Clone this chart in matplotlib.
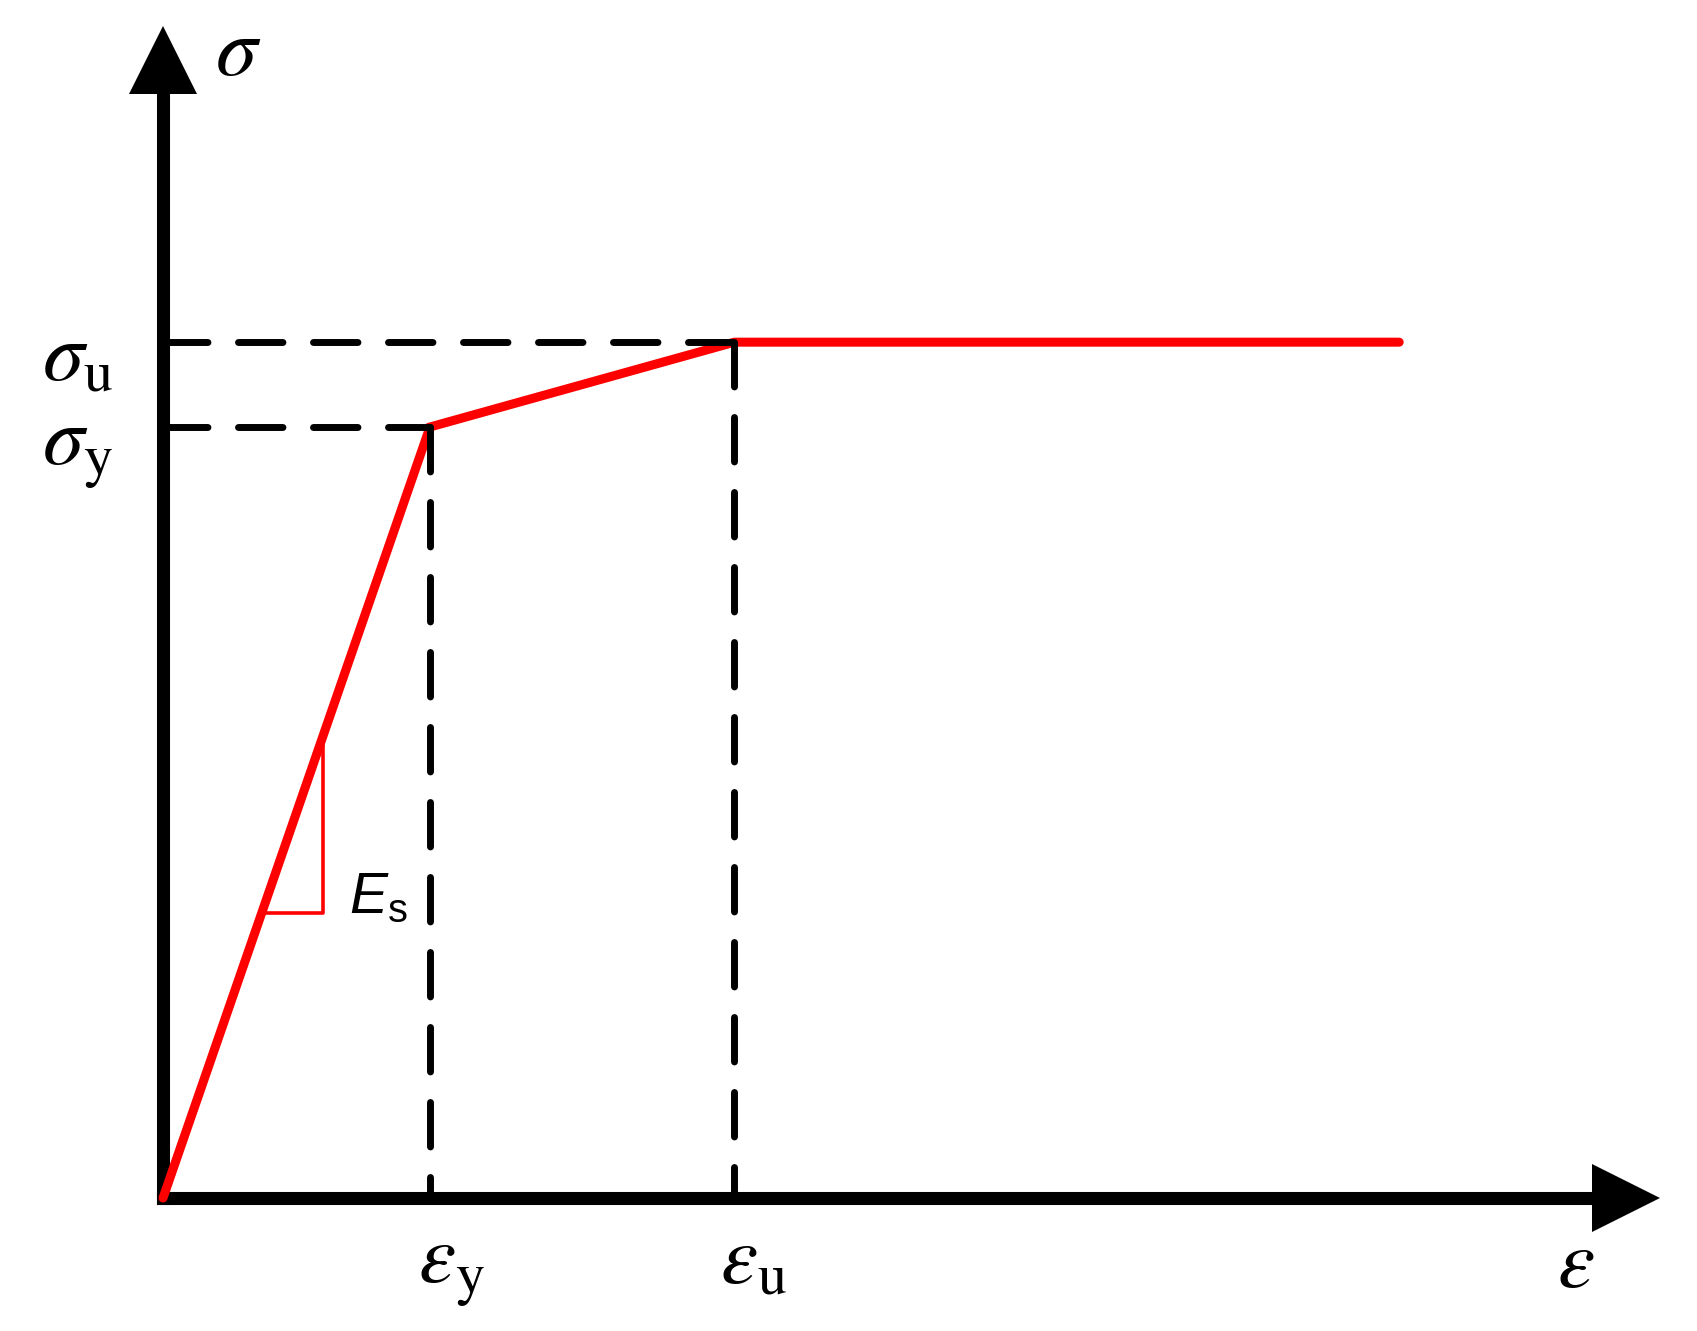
import matplotlib
matplotlib.use("Agg")
import matplotlib.pyplot as plt

plt.rcParams["mathtext.fontset"] = "stix"
plt.rcParams["mathtext.rm"] = "Liberation Sans"
plt.rcParams["mathtext.it"] = "Liberation Sans:italic"

# data (normalised: eps_y = 1, sigma_y = 1)
strain = [0.0, 1.0, 2.14, 4.63]
stress = [0.0, 1.0, 1.11, 1.11]
tick_labels_x = [r"$\epsilon_\mathrm{y}$", r"$\epsilon_\mathrm{u}$"]
tick_labels_y = [r"$\sigma_\mathrm{y}$", r"$\sigma_\mathrm{u}$"]
slope_tri = [0.37, 0.60]   # strain range of the E_s triangle

fig = plt.figure(figsize=(16.97, 13.31), dpi=100)
ax = fig.add_axes([0, 0, 1, 1])
ax.set_xlim(-0.6105, 5.7453)
ax.set_ylim(-0.1725, 1.5538)
ax.axis("off")

# axes with arrow heads
x_end, y_end = 5.479, 1.476
ax.plot([0, x_end], [0, 0], color="k", lw=9.4, solid_capstyle="projecting", zorder=2)
ax.plot([0, 0], [0, y_end], color="k", lw=9.4, solid_capstyle="projecting", zorder=2)
ax.plot(x_end, 0, marker=">", ms=49, color="k", mew=0, zorder=2)
ax.plot(0, y_end, marker="^", ms=49, color="k", mew=0, zorder=2)

# stress-strain curve
ax.plot(strain, stress, color="red", lw=6.5, solid_capstyle="round",
        solid_joinstyle="miter", zorder=3)

# slope triangle
E = stress[1] / strain[1]
a, b = slope_tri
ax.plot([a, b, b], [E * a, E * a, E * b], color="red", lw=2.6, zorder=3)
ax.text(0.695, E * a, r"$E_\mathrm{s}$", fontsize=41, ha="left", va="baseline",
        math_fontfamily="custom")

# dashed guide lines
for xs, ys in zip(strain[1:3], stress[1:3]):
    ax.plot([0, xs], [ys, ys], color="k", lw=5, dashes=(6.4, 4.4),
            dash_capstyle="round", zorder=4)
    ax.plot([xs, xs], [ys, 0], color="k", lw=5, dashes=(6.4, 4.4),
            dash_capstyle="round", zorder=4)

# labels
for xs, lab, dx in zip(strain[1:3], tick_labels_x, [-12, -14]):
    ax.annotate(lab, xy=(xs, 0), xytext=(dx, -85), textcoords="offset pixels",
                fontsize=60, ha="left", va="baseline")
for ys, lab in zip(stress[1:3], tick_labels_y):
    ax.annotate(lab, xy=(0, ys), xytext=(-121, -38), textcoords="offset pixels",
                fontsize=60, ha="left", va="baseline")

ax.text(0.196, 1.4565, r"$\sigma$", fontsize=60, ha="left", va="baseline")
ax.text(5.22, -0.1155, r"$\epsilon$", fontsize=60, ha="left", va="baseline")

fig.savefig("out.png", dpi=100)
